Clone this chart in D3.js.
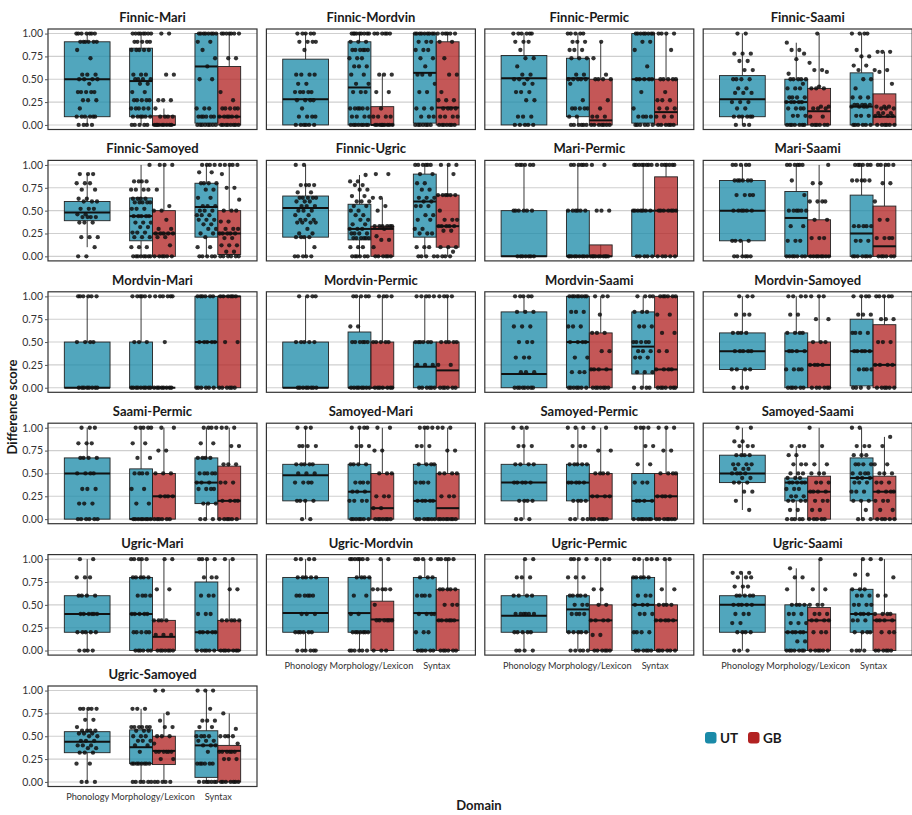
<!DOCTYPE html>
<html>
<head>
<meta charset="utf-8">
<script src="https://cdn.jsdelivr.net/npm/d3@7"></script>
<style>
  body { margin: 0; background: #fff; }
  svg text { font-family: Lato, "Open Sans", "Noto Sans", sans-serif; }
</style>
</head>
<body>
<svg id="chart" width="912" height="815"></svg>
<script>
const domains = ["Phonology", "Morphology/Lexicon", "Syntax"];
const groups = ["UT", "GB"];
const groupColors = ["#1a8aa8", "#b22222"];
const yTicks = [0, 0.25, 0.5, 0.75, 1];
const yTickLabels = ["0.00", "0.25", "0.50", "0.75", "1.00"];

// Rows: domain, group, whisker low, Q1, median, Q3, whisker high, observed scores as "value:count"
const finnicMari = [
  ["Phonology", "UT", 0, .09, .5, .91, 1, "1:7 .91:6 .82:1 .73:1 .55:3 .5:4 .45:1 .36:5 .27:3 .18:1 .09:6 0:4"],
  ["Morphology/Lexicon", "UT", 0, .09, .48, .84, 1, "1:8 .91:5 .82:5 .55:3 .5:4 .45:2 .36:2 .27:5 .18:5 .09:6 0:5"],
  ["Morphology/Lexicon", "GB", 0, 0, 0, .1, .18, "1:2 .55:2 .27:3 .18:1 .09:4 0:9"],
  ["Syntax", "UT", 0, .02, .64, 1, 1, "1:8 .91:2 .82:1 .73:1 .64:1 .5:2 .18:3 .09:6 0:8"],
  ["Syntax", "GB", 0, 0, .09, .64, 1, "1:7 .73:2 .36:1 .27:1 .18:5 .09:6 0:8"]
];
const finnicMordvin = [
  ["Phonology", "UT", 0, 0, .28, .72, 1, "1:5 .91:4 .82:1 .55:4 .45:2 .36:5 .27:4 .18:1 .09:4 0:6"],
  ["Morphology/Lexicon", "UT", 0, 0, .41, .91, 1, "1:9 .91:3 .82:6 .73:3 .64:3 .55:2 .45:2 .36:3 .18:6 .09:4 0:8"],
  ["Morphology/Lexicon", "GB", 0, 0, 0, .2, .55, "1:6 .55:3 .36:2 .18:1 .09:4 0:9"],
  ["Syntax", "UT", 0, .02, .57, 1, 1, "1:9 .91:3 .82:3 .73:2 .64:1 .55:3 .45:1 .36:2 .18:3 .09:3 0:7"],
  ["Syntax", "GB", 0, 0, .19, .91, 1, "1:6 .91:2 .73:1 .55:2 .36:1 .27:3 .18:4 .09:4 0:7"]
];
const finnicPermic = [
  ["Phonology", "UT", 0, 0, .51, .76, 1, "1:6 .91:3 .82:1 .73:2 .64:1 .55:2 .5:3 .45:2 .36:3 .27:2 .09:3 0:5"],
  ["Morphology/Lexicon", "UT", 0, .09, .51, .73, 1, "1:5 .91:3 .82:3 .73:3 .55:2 .5:5 .45:1 .27:1 .18:5 .09:2 0:6"],
  ["Morphology/Lexicon", "GB", 0, 0, .05, .5, .91, ".91:1 .73:1 .55:1 .5:4 .27:1 .18:1 .09:3 0:7"],
  ["Syntax", "UT", 0, .02, .5, 1, 1, "1:8 .91:2 .82:1 .64:1 .5:5 .36:1 .18:1 .09:4 0:6"],
  ["Syntax", "GB", 0, 0, .14, .5, 1, "1:4 .82:1 .5:5 .36:1 .27:3 .18:3 .09:3 0:6"]
];
const finnicSaami = [
  ["Phonology", "UT", 0, .09, .28, .54, 1, "1:2 .78:3 .7:2 .6:2 .5:4 .4:2 .35:3 .25:3 .18:2 .09:6 0:3"],
  ["Morphology/Lexicon", "UT", 0, 0, .25, .5, .9, ".9:1 .82:2 .78:1 .72:1 .56:1 .5:5 .45:1 .4:3 .3:4 .25:5 .18:4 .1:3 0:7"],
  ["Morphology/Lexicon", "GB", 0, 0, .15, .4, 1, "1:1 .68:1 .6:2 .58:1 .42:1 .4:3 .2:2 .18:3 .09:2 0:6"],
  ["Syntax", "UT", 0, 0, .2, .57, 1, "1:4 .82:1 .75:2 .65:2 .6:1 .5:2 .4:1 .3:3 .22:5 .2:4 .1:3 0:6"],
  ["Syntax", "GB", 0, 0, .09, .34, .8, ".8:3 .6:2 .58:1 .45:1 .2:3 .18:3 .13:3 .1:4 0:6"]
];
const finnicSamoyed = [
  ["Phonology", "UT", .1, .39, .48, .6, .9, ".9:3 .8:3 .73:2 .63:2 .6:3 .52:3 .46:2 .43:4 .37:3 .21:3 .1:1 0:2"],
  ["Morphology/Lexicon", "UT", 0, .17, .44, .64, 1, "1:1 .82:4 .73:4 .63:4 .59:5 .52:3 .44:5 .37:3 .32:2 .26:3 .21:3 .1:3 0:8"],
  ["Morphology/Lexicon", "GB", 0, 0, .25, .5, 1, "1:3 .73:1 .55:1 .5:2 .4:1 .3:2 .25:5 .21:2 .12:1 0:6"],
  ["Syntax", "UT", 0, .21, .54, .8, 1, "1:4 .92:2 .8:4 .73:2 .64:2 .55:3 .5:3 .45:3 .4:3 .35:2 .3:2 .25:2 .21:1 .1:2 0:5"],
  ["Syntax", "GB", 0, .02, .25, .5, 1, "1:5 .9:1 .75:2 .62:1 .5:3 .38:2 .3:3 .25:5 .2:2 .12:3 .05:2 0:6"]
];
const finnicUgric = [
  ["Phonology", "UT", 0, .21, .53, .66, 1, "1:2 .78:4 .7:2 .64:5 .6:3 .55:3 .5:3 .45:2 .4:3 .37:4 .3:1 .25:2 .21:4 .1:1 0:5"],
  ["Morphology/Lexicon", "UT", 0, .18, .3, .57, .89, ".89:1 .82:2 .78:2 .73:2 .66:2 .6:3 .55:2 .5:2 .45:2 .4:2 .35:2 .3:3 .25:4 .2:6 .1:3 0:6"],
  ["Morphology/Lexicon", "GB", 0, 0, .3, .33, .64, ".9:2 .64:2 .55:1 .5:1 .33:6 .3:1 .22:1 .18:2 .1:1 0:6"],
  ["Syntax", "UT", 0, .21, .6, .9, 1, "1:6 .9:2 .8:2 .73:2 .64:3 .6:2 .55:3 .45:2 .4:2 .3:2 .25:3 .1:3 0:4"],
  ["Syntax", "GB", 0, .1, .33, .67, 1, "1:3 .9:1 .67:6 .5:1 .4:3 .33:5 .28:2 .1:3 .05:1 0:4"]
];
const mariPermic = [
  ["Phonology", "UT", 0, 0, 0, .5, 1, "1:6 .5:6 0:7"],
  ["Morphology/Lexicon", "UT", 0, 0, 0, .5, 1, "1:6 .5:6 0:9"],
  ["Morphology/Lexicon", "GB", 0, 0, 0, .125, 0, "1:2 .5:3 0:10"],
  ["Syntax", "UT", 0, 0, .5, .5, 1, "1:8 .5:7 0:5"],
  ["Syntax", "GB", 0, 0, .5, .87, 1, "1:7 .5:7 0:5"]
];
const mariSaami = [
  ["Phonology", "UT", 0, .17, .5, .83, 1, "1:5 .83:6 .67:4 .5:6 .17:4 0:6"],
  ["Morphology/Lexicon", "UT", 0, 0, .42, .71, 1, "1:6 .83:1 .67:1 .5:6 .33:2 .17:3 0:7"],
  ["Morphology/Lexicon", "GB", 0, 0, 0, .4, 1, "1:1 .8:2 .6:4 .4:2 .2:3 0:8"],
  ["Syntax", "UT", 0, 0, .25, .67, 1, "1:6 .83:5 .33:5 .17:3 0:7"],
  ["Syntax", "GB", 0, 0, .11, .55, 1, "1:5 .8:2 .6:1 .4:2 .2:4 0:6"]
];
const mordvinMari = [
  ["Phonology", "UT", 0, 0, 0, .5, 1, "1:6 .5:4 0:8"],
  ["Morphology/Lexicon", "UT", 0, 0, 0, .5, 1, "1:6 .5:3 0:9"],
  ["Morphology/Lexicon", "GB", 0, 0, 0, 0, 0, "1:6 .5:1 0:8"],
  ["Syntax", "UT", 0, 0, .5, 1, 1, "1:6 .5:5 0:6"],
  ["Syntax", "GB", 0, 0, 1, 1, 1, "1:6 .5:2 0:6"]
];
const mordvinPermic = [
  ["Phonology", "UT", 0, 0, 0, .5, 1, "1:4 .5:5 0:8"],
  ["Morphology/Lexicon", "UT", 0, 0, 0, .61, 1, "1:5 .67:2 .5:6 0:8"],
  ["Morphology/Lexicon", "GB", 0, 0, 0, .5, 1, "1:4 .5:5 0:7"],
  ["Syntax", "UT", 0, 0, .23, .5, 1, "1:5 .5:6 .25:3 0:6"],
  ["Syntax", "GB", 0, 0, .19, .5, 1, "1:4 .5:5 .25:2 0:6"]
];
const mordvinSaami = [
  ["Phonology", "UT", 0, 0, .15, .83, 1, "1:5 .83:3 .67:3 .5:3 .33:3 .17:3 0:8"],
  ["Morphology/Lexicon", "UT", 0, 0, .5, 1, 1, "1:8 .83:3 .67:3 .5:4 .33:2 .17:3 0:7"],
  ["Morphology/Lexicon", "GB", 0, 0, .2, .6, 1, "1:3 .8:1 .6:3 .4:2 .2:4 0:7"],
  ["Syntax", "UT", 0, .15, .45, .83, 1, "1:4 .83:3 .67:3 .5:5 .4:3 .33:3 .17:3 0:4"],
  ["Syntax", "GB", 0, 0, .2, 1, 1, "1:6 .8:2 .6:2 .4:2 .2:4 0:7"]
];
const mordvinSamoyed = [
  ["Phonology", "UT", 0, .2, .4, .6, 1, "1:3 .8:3 .6:4 .4:5 .2:4 0:3"],
  ["Morphology/Lexicon", "UT", 0, 0, .4, .6, 1, "1:4 .8:2 .6:4 .4:4 .2:4 0:6"],
  ["Morphology/Lexicon", "GB", 0, 0, .25, .5, 1, "1:3 .75:2 .5:3 .25:4 0:6"],
  ["Syntax", "UT", 0, .02, .4, .75, 1, "1:4 .8:3 .6:4 .4:5 .2:4 0:4"],
  ["Syntax", "GB", 0, 0, .25, .69, 1, "1:5 .75:3 .5:3 .25:4 0:6"]
];
const saamiPermic = [
  ["Phonology", "UT", 0, 0, .5, .67, 1, "1:3 .83:3 .67:4 .5:4 .33:3 .17:3 0:6"],
  ["Morphology/Lexicon", "UT", 0, 0, 0, .55, 1, "1:5 .83:2 .67:2 .5:4 .33:2 .17:2 0:8"],
  ["Morphology/Lexicon", "GB", 0, 0, .25, .5, 1, "1:2 .75:2 .5:3 .25:4 0:6"],
  ["Syntax", "UT", 0, .17, .4, .67, 1, "1:4 .83:2 .67:4 .5:5 .4:3 .33:4 .17:3 0:3"],
  ["Syntax", "GB", 0, 0, .2, .58, 1, "1:3 .8:2 .6:3 .4:3 .2:4 0:6"]
];
const samoyedMari = [
  ["Phonology", "UT", 0, .2, .48, .6, 1, "1:3 .8:4 .6:5 .5:3 .4:4 .2:4 0:2"],
  ["Morphology/Lexicon", "UT", 0, 0, .3, .6, 1, "1:4 .8:3 .6:4 .4:4 .3:3 .2:4 0:7"],
  ["Morphology/Lexicon", "GB", 0, 0, .12, .5, 1, "1:2 .75:2 .5:3 .25:3 .12:2 0:7"],
  ["Syntax", "UT", 0, 0, .2, .6, 1, "1:4 .8:3 .6:4 .4:4 .2:5 0:7"],
  ["Syntax", "GB", 0, 0, .12, .5, 1, "1:3 .75:2 .5:4 .25:3 0:8"]
];
const samoyedPermic = [
  ["Phonology", "UT", 0, .2, .4, .6, 1, "1:3 .8:3 .6:4 .4:5 .2:4 0:3"],
  ["Morphology/Lexicon", "UT", 0, .2, .4, .6, 1, "1:3 .8:3 .6:5 .4:5 .2:4 0:4"],
  ["Morphology/Lexicon", "GB", 0, 0, .25, .5, 1, "1:2 .75:2 .5:4 .25:4 0:6"],
  ["Syntax", "UT", 0, 0, .2, .5, 1, "1:4 .8:2 .6:2 .4:3 .2:4 0:7"],
  ["Syntax", "GB", 0, 0, .25, .5, 1, "1:3 .75:2 .5:4 .25:4 0:7"]
];
const samoyedSaami = [
  ["Phonology", "UT", .1, .4, .5, .7, 1, "1:2 .85:2 .8:3 .7:4 .6:4 .55:3 .5:4 .45:2 .4:3 .3:2 .2:1 .1:1"],
  ["Morphology/Lexicon", "UT", 0, .2, .4, .45, .8, ".8:3 .7:2 .6:3 .5:3 .45:3 .4:5 .33:3 .25:3 .2:4 .1:2 0:5"],
  ["Morphology/Lexicon", "GB", 0, 0, .3, .47, 1, "1:1 .8:1 .6:2 .5:3 .4:3 .3:4 .2:3 .1:2 0:5"],
  ["Syntax", "UT", 0, .2, .45, .67, 1, "1:2 .8:3 .7:3 .6:4 .5:4 .45:3 .4:3 .3:3 .2:3 .1:1 0:3"],
  ["Syntax", "GB", 0, 0, .3, .47, .9, ".9:1 .8:1 .6:2 .5:3 .4:3 .3:4 .2:3 .1:2 0:5"]
];
const ugricMari = [
  ["Phonology", "UT", 0, .2, .4, .6, 1, "1:2 .8:3 .6:4 .4:6 .2:5 0:4"],
  ["Morphology/Lexicon", "UT", 0, 0, .4, .8, 1, "1:5 .8:5 .6:4 .4:5 .2:5 0:6"],
  ["Morphology/Lexicon", "GB", 0, 0, .15, .33, 1, "1:2 .67:2 .33:4 .17:3 0:7"],
  ["Syntax", "UT", 0, 0, .2, .75, 1, "1:4 .8:3 .6:3 .4:3 .2:5 0:6"],
  ["Syntax", "GB", 0, 0, 0, .33, 1, "1:2 .67:2 .33:5 0:7"]
];
const ugricMordvin = [
  ["Phonology", "UT", 0, .2, .41, .8, 1, "1:4 .8:5 .6:6 .4:3 .2:6 0:6"],
  ["Morphology/Lexicon", "UT", 0, .2, .41, .8, 1, "1:7 .8:4 .6:2 .4:2 .2:7 0:6"],
  ["Morphology/Lexicon", "GB", 0, 0, .34, .54, 1, "1:2 .67:5 .5:1 .33:6 0:3"],
  ["Syntax", "UT", 0, 0, .41, .8, 1, "1:4 .8:3 .6:4 .4:4 .2:3 0:6"],
  ["Syntax", "GB", 0, 0, .33, .67, 1, "1:5 .67:5 .5:3 .33:6 0:6"]
];
const ugricPermic = [
  ["Phonology", "UT", 0, .2, .38, .6, 1, "1:2 .8:3 .6:4 .4:6 .2:5 0:4"],
  ["Morphology/Lexicon", "UT", 0, .2, .45, .6, 1, "1:4 .8:3 .6:5 .5:3 .4:4 .2:5 0:5"],
  ["Morphology/Lexicon", "GB", 0, 0, .33, .5, 1, "1:3 .67:2 .5:2 .33:4 .17:2 0:6"],
  ["Syntax", "UT", 0, 0, .5, .8, 1, "1:4 .8:5 .6:3 .5:3 .4:3 .2:4 0:6"],
  ["Syntax", "GB", 0, 0, .33, .5, 1, "1:3 .67:2 .5:4 .33:5 0:6"]
];
const ugricSaami = [
  ["Phonology", "UT", 0, .2, .5, .6, .85, ".85:3 .8:3 .7:3 .6:5 .5:5 .4:3 .3:2 .2:4 0:3"],
  ["Morphology/Lexicon", "UT", 0, 0, .2, .5, .9, ".9:1 .8:2 .67:1 .5:4 .4:3 .3:3 .2:5 .1:2 0:7"],
  ["Morphology/Lexicon", "GB", 0, 0, .33, .47, 1, "1:1 .67:2 .5:3 .4:3 .33:4 .2:3 0:6"],
  ["Syntax", "UT", 0, .2, .4, .67, 1, "1:2 .83:2 .67:3 .6:3 .5:4 .4:4 .33:3 .2:4 0:4"],
  ["Syntax", "GB", 0, 0, .33, .4, 1, "1:1 .8:1 .6:2 .4:4 .33:4 .2:3 0:6"]
];
const ugricSamoyed = [
  ["Phonology", "UT", 0, .32, .44, .55, .8, ".8:5 .68:2 .6:1 .56:4 .53:3 .5:2 .45:3 .4:3 .37:2 .32:3 .2:2 0:3"],
  ["Morphology/Lexicon", "UT", 0, .2, .38, .57, .8, ".8:3 .6:6 .56:3 .5:3 .45:3 .4:2 .33:1 .2:8 0:6"],
  ["Morphology/Lexicon", "GB", 0, .19, .34, .5, .75, "1:2 .75:1 .67:1 .6:2 .5:3 .42:1 .33:6 .25:2 0:5"],
  ["Syntax", "UT", 0, .05, .4, .56, 1, "1:3 .8:1 .67:3 .6:2 .5:4 .45:3 .4:3 .33:1 .2:6 0:7"],
  ["Syntax", "GB", 0, 0, .34, .4, .75, ".75:1 .58:1 .5:4 .42:1 .33:6 .25:3 0:7"]
];

const facetNames = [
  "Finnic-Mari", "Finnic-Mordvin", "Finnic-Permic", "Finnic-Saami",
  "Finnic-Samoyed", "Finnic-Ugric", "Mari-Permic", "Mari-Saami",
  "Mordvin-Mari", "Mordvin-Permic", "Mordvin-Saami", "Mordvin-Samoyed",
  "Saami-Permic", "Samoyed-Mari", "Samoyed-Permic", "Samoyed-Saami",
  "Ugric-Mari", "Ugric-Mordvin", "Ugric-Permic", "Ugric-Saami",
  "Ugric-Samoyed"
];
const facetData = [
  finnicMari, finnicMordvin, finnicPermic, finnicSaami,
  finnicSamoyed, finnicUgric, mariPermic, mariSaami,
  mordvinMari, mordvinPermic, mordvinSaami, mordvinSamoyed,
  saamiPermic, samoyedMari, samoyedPermic, samoyedSaami,
  ugricMari, ugricMordvin, ugricPermic, ugricSaami,
  ugricSamoyed
];

// ---- layout ----
const nCols = 4;
const colLeft = [48, 266.4, 484.8, 703.2];
const panelW = 209;
const panelH = 100.5;
const rowTop0 = 29;
const rowPitch = 131.4;

const svg = d3.select("#chart");
svg.append("rect").attr("width", 912).attr("height", 815).attr("fill", "#fff");

const x = d3.scalePoint().domain(domains).range([0, panelW]).padding(0.6);
const unit = x.step();
const dodge = d3.scaleBand().domain(groups).range([-0.35 * unit, 0.35 * unit]);
const y = d3.scaleLinear().domain([-0.05, 1.05]).range([panelH, 0]);
const color = d3.scaleOrdinal().domain(groups).range(groupColors);

const expand = s => s.trim().split(/\s+/).flatMap(tok => {
  const [v, c] = tok.split(":");
  return d3.range(+c).map(() => +v);
});

// bottom-most facet in each column carries the domain labels
const lastRow = {};
facetNames.forEach((_, i) => { lastRow[i % nCols] = i; });

facetNames.forEach((name, i) => {
  const col = i % nCols, row = Math.floor(i / nCols);
  const g = svg.append("g")
    .attr("transform", `translate(${colLeft[col]},${rowTop0 + row * rowPitch})`);

  // strip title
  g.append("text")
    .attr("x", panelW / 2).attr("y", -7)
    .attr("text-anchor", "middle")
    .attr("font-size", 13).attr("font-weight", 700).attr("fill", "#1a1a1a")
    .text(name);

  g.append("rect").attr("width", panelW).attr("height", panelH).attr("fill", "#fff");

  // horizontal grid
  g.selectAll("line.grid").data(yTicks).join("line")
    .attr("class", "grid")
    .attr("x1", 0).attr("x2", panelW)
    .attr("y1", d => y(d)).attr("y2", d => y(d))
    .attr("stroke", "#cfcfcf").attr("stroke-width", 1.1);

  const boxes = facetData[i].map(r => ({
    domain: r[0], group: r[1], lo: r[2], q1: r[3], med: r[4], q3: r[5], hi: r[6],
    pts: expand(r[7])
  }));
  const nInDomain = d => boxes.filter(b => b.domain === d).length;

  boxes.forEach((b, bi) => {
    const single = nInDomain(b.domain) === 1;
    const cx = x(b.domain) + (single ? 0 : dodge(b.group) + dodge.bandwidth() / 2);
    const w = single ? 0.7 * unit : dodge.bandwidth();
    const bg = g.append("g");

    // whiskers
    bg.append("line").attr("x1", cx).attr("x2", cx)
      .attr("y1", y(b.hi)).attr("y2", y(b.q3))
      .attr("stroke", "#222").attr("stroke-width", 0.9);
    bg.append("line").attr("x1", cx).attr("x2", cx)
      .attr("y1", y(b.q1)).attr("y2", y(b.lo))
      .attr("stroke", "#222").attr("stroke-width", 0.9);
    // box
    bg.append("rect")
      .attr("x", cx - w / 2).attr("width", w)
      .attr("y", y(b.q3)).attr("height", Math.max(0, y(b.q1) - y(b.q3)))
      .attr("fill", color(b.group)).attr("fill-opacity", 0.76)
      .attr("stroke", "#222").attr("stroke-width", 0.9);
    // median
    bg.append("line")
      .attr("x1", cx - w / 2).attr("x2", cx + w / 2)
      .attr("y1", y(b.med)).attr("y2", y(b.med))
      .attr("stroke", "#111").attr("stroke-width", 2);

    // jittered observations (deterministic spread)
    const jw = single ? 0.165 * unit : 0.155 * unit;
    const seed = (i * 5 + bi) * 0.377;
    g.append("g").selectAll("circle").data(b.pts).join("circle")
      .attr("cx", (d, k) => cx + (((k * 0.6180339887 + seed) % 1) - 0.5) * 2 * jw)
      .attr("cy", d => y(d))
      .attr("r", 2.15)
      .attr("fill", "#111").attr("fill-opacity", 0.85);
  });

  // panel border
  g.append("rect").attr("width", panelW).attr("height", panelH)
    .attr("fill", "none").attr("stroke", "#333").attr("stroke-width", 1.2);

  // y axis on the first column
  if (col === 0) {
    const ax = g.append("g").call(d3.axisLeft(y).tickValues(yTicks)
      .tickFormat((d, k) => yTickLabels[k]).tickSize(3).tickPadding(2));
    ax.select(".domain").remove();
    ax.selectAll(".tick line").attr("stroke", "#555");
    ax.selectAll(".tick text").attr("font-size", 10.5).attr("fill", "#333")
      .attr("font-family", "Lato, 'Open Sans', sans-serif");
  }

  // domain labels under the bottom facet of each column
  if (lastRow[col] === i) {
    const ax = g.append("g").attr("transform", `translate(0,${panelH})`)
      .call(d3.axisBottom(x).tickSize(0).tickPadding(7));
    ax.select(".domain").remove();
    ax.selectAll(".tick text").attr("font-size", 9.2).attr("fill", "#333")
      .attr("font-family", "Lato, 'Open Sans', sans-serif");
  }
});

// axis titles
svg.append("text")
  .attr("transform", "translate(17,407) rotate(-90)")
  .attr("text-anchor", "middle")
  .attr("font-size", 13).attr("font-weight", 700).attr("fill", "#1a1a1a")
  .text("Difference score");
svg.append("text")
  .attr("x", 479).attr("y", 810)
  .attr("text-anchor", "middle")
  .attr("font-size", 13).attr("font-weight", 700).attr("fill", "#1a1a1a")
  .text("Domain");

// legend
const legend = svg.append("g").attr("transform", "translate(705,732)");
groups.forEach((gname, k) => {
  const lg = legend.append("g").attr("transform", `translate(${k * 43},0)`);
  lg.append("rect").attr("width", 11.5).attr("height", 11.5).attr("rx", 3)
    .attr("fill", color(gname));
  lg.append("text").attr("x", 15).attr("y", 10.5)
    .attr("font-size", 13.5).attr("font-weight", 700).attr("fill", "#1a1a1a")
    .text(gname);
});
</script>
</body>
</html>
